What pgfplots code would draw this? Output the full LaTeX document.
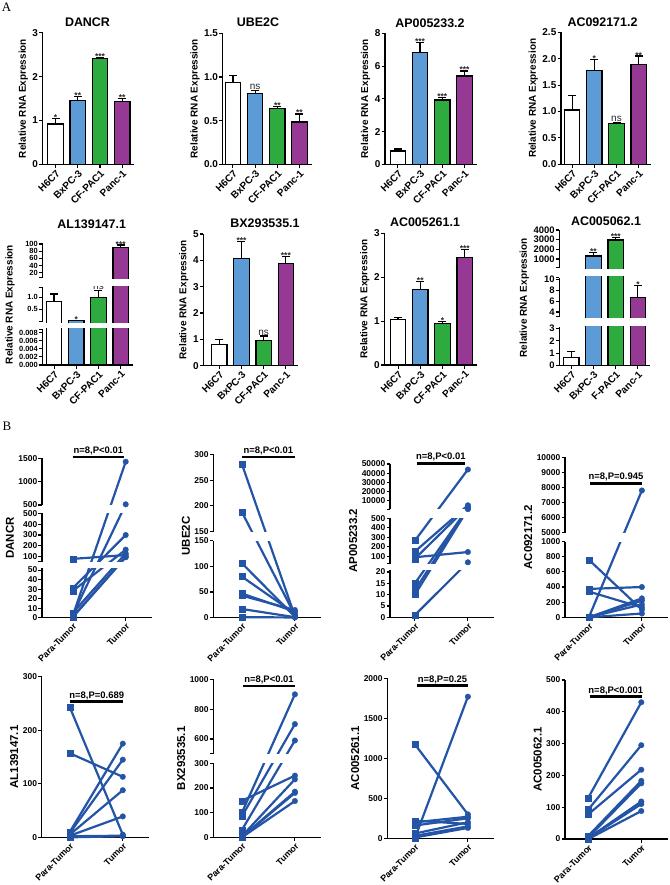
\documentclass[border=0pt]{standalone}
\usepackage{pgfplots}
\pgfplotsset{compat=1.18}
\usepackage{fontspec}
\setmainfont{Liberation Sans}
\newfontfamily\serif{Liberation Serif}

\definecolor{cBlue}{RGB}{92,155,213}
\definecolor{cGreen}{RGB}{46,171,62}
\definecolor{cPurple}{RGB}{150,57,148}
\definecolor{cLine}{RGB}{35,84,166}

\newcommand\fs[1]{\bfseries\fontsize{#1}{#1}\selectfont}
% white break band and y axis piece, in bp above the axis bottom
\newcommand\gapband[3]{\fill[white] ([shift={(0.9bp,#1bp)}]rel axis cs:0,0) rectangle ([shift={(#3bp,#2bp)}]rel axis cs:0,0);}
\newcommand\yseg[2]{\draw[line width=1.3bp] ([yshift=#1bp]rel axis cs:0,0) -- ([yshift=#2bp]rel axis cs:0,0);}
% value handed to a coord trafo may be plain or in fpu form
\makeatletter
\newcommand\getval[1]{\pgfutil@in@{Y}{#1}\ifpgfutil@in@\pgfmathfloattosci{#1}\edef\myv{\pgfmathresult}\else\edef\myv{#1}\fi}
\makeatother

\tikzset{
  sig/.style={anchor=south, inner sep=0.5bp, font=\fs{8.5}, text=black!85, yshift=-2.7bp},
  ns/.style={anchor=south, inner sep=0.5bp, font=\fontsize{10}{10}\selectfont, text=black!85},
  ptext/.style={font=\fs{9.5}, anchor=south, inner sep=1bp},
}
\pgfplotsset{
  base/.style={scale only axis, anchor=south west, axis x line*=bottom, axis y line*=left,
    clip=false, tick align=outside, major tick length=3.5bp, ymin=0,
    axis line style={line width=1.3bp},
    tick style={black, line width=1.1bp},
    scaled ticks=false,
    /pgf/number format/assume math mode=true, /pgf/number format/1000 sep={},
    y tick label style={font=\fs{10}, inner sep=1bp},
    x tick label style={rotate=45, anchor=north east, inner sep=1bp}},
  broken/.style={y axis line style={draw=none}},
  bars/.style={base, xmax=3.55, xtick={0,1,2,3},
    xticklabels={H6C7,BxPC-3,CF-PAC1,Panc-1}, x tick label style={font=\fs{10}},
    ylabel={Relative RNA Expression}, ylabel style={font=\fs{10}}},
  bar/.style={ybar, bar width=15.5bp, bar shift=0pt, draw=black, line width=1.2bp, fill=#1},
  err/.style={black, line width=1.2bp, mark=-, mark size=4bp},
  pairs/.style={base, xmax=1.5, xtick={0,1}, xticklabels={Para-Tumor,Tumor},
    x tick label style={font=\fs{9}}, y tick label style={font=\fs{8.5}},
    ylabel style={font=\fs{11.5}}},
  pr/.style={cLine, line width=2.2bp, scatter, scatter src=explicit symbolic,
    scatter/classes={p={mark=square*, mark size=3bp, cLine, line width=0.3bp},
                     t={mark=*, mark size=2.8bp, cLine, line width=0.3bp}}},
}

\begin{document}
\begin{tikzpicture}
\path[use as bounding box] (0,0) rectangle (670bp,-885bp);

\node[font=\serif\fontsize{13}{13}\selectfont] at (6.5bp,-7bp) {A};
\node[font=\serif\fontsize{13}{13}\selectfont] at (7bp,-426bp) {B};

% ---------------- A, row 1
\begin{axis}[bars, at={(42.7bp,-164.3bp)}, width=91.7bp, height=131.6bp, xmin=-0.58,
  ymax=3, ytick={0,1,2,3}]
\addplot[bar=white] coordinates {(0,0.92)};
\addplot[bar=cBlue] coordinates {(1,1.45)};
\addplot[bar=cGreen] coordinates {(2,2.42)};
\addplot[bar=cPurple] coordinates {(3,1.43)};
\addplot[err] coordinates {(0,0.92) (0,1.05)};
\addplot[err] coordinates {(1,1.45) (1,1.54)};
\addplot[err] coordinates {(2,2.42) (2,2.44)};
\addplot[err] coordinates {(3,1.43) (3,1.50)};
\node[sig] at (axis cs:0,1.05) {*};
\node[sig] at (axis cs:1,1.54) {**};
\node[sig] at (axis cs:2,2.44) {***};
\node[sig] at (axis cs:3,1.50) {**};
\end{axis}
\node[font=\fs{12.5}] at (87.5bp,-22bp) {DANCR};

\begin{axis}[bars, at={(222.7bp,-164.3bp)}, width=89bp, height=131bp, xmin=-0.46,
  ymax=1.5, ytick={0,0.5,1,1.5}, yticklabels={0.0,0.5,1.0,1.5}]
\addplot[bar=white] coordinates {(0,0.934)};
\addplot[bar=cBlue] coordinates {(1,0.813)};
\addplot[bar=cGreen] coordinates {(2,0.641)};
\addplot[bar=cPurple] coordinates {(3,0.484)};
\addplot[err] coordinates {(0,0.934) (0,1.02)};
\addplot[err] coordinates {(1,0.813) (1,0.843)};
\addplot[err] coordinates {(2,0.641) (2,0.66)};
\addplot[err] coordinates {(3,0.484) (3,0.576)};
\node[ns] at (axis cs:1,0.843) {ns};
\node[sig] at (axis cs:2,0.66) {**};
\node[sig] at (axis cs:3,0.576) {**};
\end{axis}
\node[font=\fs{12.5}] at (258bp,-22bp) {UBE2C};

\begin{axis}[bars, at={(385bp,-164.3bp)}, width=91.7bp, height=131bp, xmin=-0.58,
  ymax=8, ytick={0,2,4,6,8}]
\addplot[bar=white] coordinates {(0,0.81)};
\addplot[bar=cBlue] coordinates {(1,6.84)};
\addplot[bar=cGreen] coordinates {(2,3.93)};
\addplot[bar=cPurple] coordinates {(3,5.39)};
\addplot[err] coordinates {(0,0.81) (0,0.93)};
\addplot[err] coordinates {(1,6.84) (1,7.45)};
\addplot[err] coordinates {(2,3.93) (2,4.09)};
\addplot[err] coordinates {(3,5.39) (3,5.70)};
\node[sig] at (axis cs:1,7.45) {***};
\node[sig] at (axis cs:2,4.09) {***};
\node[sig] at (axis cs:3,5.70) {***};
\end{axis}
\node[font=\fs{12.5}] at (430bp,-23bp) {AP005233.2};

\begin{axis}[bars, at={(561bp,-164.3bp)}, width=89.9bp, height=132bp, xmin=-0.5,
  ymax=2.5, ytick={0,0.5,1,1.5,2,2.5}, yticklabels={0.0,0.5,1.0,1.5,2.0,2.5}]
\addplot[bar=white] coordinates {(0,1.03)};
\addplot[bar=cBlue] coordinates {(1,1.78)};
\addplot[bar=cGreen] coordinates {(2,0.777)};
\addplot[bar=cPurple] coordinates {(3,1.89)};
\addplot[err] coordinates {(0,1.03) (0,1.30)};
\addplot[err] coordinates {(1,1.78) (1,1.99)};
\addplot[err] coordinates {(2,0.777) (2,0.795)};
\addplot[err] coordinates {(3,1.89) (3,2.05)};
\node[sig] at (axis cs:1,1.99) {*};
\node[ns] at (axis cs:2,0.795) {ns};
\node[sig] at (axis cs:3,2.05) {**};
\end{axis}
\node[font=\fs{12.5}] at (602.5bp,-22bp) {AC092171.2};

% ---------------- A, row 2
\begin{axis}[bars, broken, at={(42.5bp,-365bp)}, width=90.4bp, height=121bp, xmin=-0.52,
  ymax=100,
  y coord trafo/.code={\getval{#1}\edef\pgfmathresult{\fpeval{\myv<=0.0089 ? \myv*4037.5 : (\myv<=1.45 ? 43.7+24*\myv : 92.3+(\myv-20)*0.3588)}}},
  y tick label style={font=\fs{7.5}},
  ytick={0,0.002,0.004,0.006,0.008,0.0089,0.0095,0.5,1,1.42,6.1,20,40,60,80,100},
  yticklabels={0.000,0.002,0.004,0.006,0.008,{},{},0.5,1.0,{},{},20,40,60,80,100}]
\addplot[bar=white] coordinates {(0,0.82)};
\addplot[bar=cBlue] coordinates {(1,0.03)};
\addplot[bar=cGreen] coordinates {(2,1.0)};
\addplot[bar=cPurple] coordinates {(3,89.7)};
\addplot[err] coordinates {(0,0.82) (0,1.14)};
\addplot[err] coordinates {(2,1.0) (2,1.3)};
\addplot[err] coordinates {(3,89.7) (3,97)};
\node[sig] at (axis cs:1,0.03) {*};
\node[ns] at (axis cs:2,1.3) {ns};
\node[sig] at (axis cs:3,97) {***};
\gapband{37.3}{42.5}{92}
\gapband{79.3}{86}{92}
\yseg{0}{35.9}\yseg{43.9}{77.8}\yseg{87.3}{121}
\end{axis}
\node[font=\fs{12.5}] at (91.7bp,-224bp) {AL139147.1};

\begin{axis}[bars, at={(203.3bp,-365.7bp)}, width=94.8bp, height=131.7bp, xmin=-0.72,
  ymax=5, ytick={0,1,2,3,4,5}]
\addplot[bar=white] coordinates {(0,0.81)};
\addplot[bar=cBlue] coordinates {(1,4.08)};
\addplot[bar=cGreen] coordinates {(2,0.95)};
\addplot[bar=cPurple] coordinates {(3,3.89)};
\addplot[err] coordinates {(0,0.81) (0,1.01)};
\addplot[err] coordinates {(1,4.08) (1,4.71)};
\addplot[err] coordinates {(2,0.95) (2,1.13)};
\addplot[err] coordinates {(3,3.89) (3,4.16)};
\node[sig] at (axis cs:1,4.71) {***};
\node[ns] at (axis cs:2,1.13) {ns};
\node[sig] at (axis cs:3,4.16) {***};
\end{axis}
\node[font=\fs{12.5}] at (265bp,-223bp) {BX293535.1};

\begin{axis}[bars, at={(384.3bp,-365bp)}, width=92.6bp, height=131.7bp, xmin=-0.62,
  ymax=3, ytick={0,1,2,3}]
\addplot[bar=white] coordinates {(0,1.04)};
\addplot[bar=cBlue] coordinates {(1,1.72)};
\addplot[bar=cGreen] coordinates {(2,0.95)};
\addplot[bar=cPurple] coordinates {(3,2.45)};
\addplot[err] coordinates {(0,1.04) (0,1.09)};
\addplot[err] coordinates {(1,1.72) (1,1.90)};
\addplot[err] coordinates {(2,0.95) (2,0.99)};
\addplot[err] coordinates {(3,2.45) (3,2.64)};
\node[sig] at (axis cs:1,1.90) {**};
\node[sig] at (axis cs:2,0.99) {*};
\node[sig] at (axis cs:3,2.64) {***};
\end{axis}
\node[font=\fs{12.5}] at (425bp,-222bp) {AC005261.1};

\begin{axis}[bars, broken, at={(559.3bp,-365.7bp)}, width=90.8bp, height=135.7bp, xmin=-0.54,
  ymax=4000, xticklabels={H6C7,BxPC-3,F-PAC1,Panc-1},
  y coord trafo/.code={\getval{#1}\edef\pgfmathresult{\fpeval{\myv<=3.1 ? 12.44*\myv : (\myv<=10.3 ? 53.7+(\myv-4)*5.45 : 106.7+(\myv-1000)*0.009667)}}},
  y tick label style={font=\fs{9.5}},
  ytick={0,1,2,3,3.11,4,6,8,10,10.25,100,1000,2000,3000,4000},
  yticklabels={0,1,2,3,{},4,6,8,10,{},{},1000,2000,3000,4000}]
\addplot[bar=white] coordinates {(0,0.675)};
\addplot[bar=cBlue] coordinates {(1,1310)};
\addplot[bar=cGreen] coordinates {(2,2965)};
\addplot[bar=cPurple] coordinates {(3,6.62)};
\addplot[err] coordinates {(0,0.675) (0,1.12)};
\addplot[err] coordinates {(1,1310) (1,1650)};
\addplot[err] coordinates {(2,2965) (2,3200)};
\addplot[err] coordinates {(3,6.62) (3,8.83)};
\node[sig] at (axis cs:1,1650) {**};
\node[sig] at (axis cs:2,3200) {***};
\node[sig] at (axis cs:3,8.83) {*};
\gapband{40}{47.5}{92}
\gapband{89.3}{96.5}{92}
\yseg{0}{38.6}\yseg{48.9}{87.8}\yseg{98}{135.7}
\end{axis}
\node[font=\fs{12.5}] at (606bp,-221bp) {AC005062.1};

% ---------------- B, row 1
\begin{axis}[pairs, broken, at={(42bp,-617.7bp)}, width=110.2bp, height=159.4bp, xmin=-0.58,
  ymax=1500, ylabel={DANCR},
  y coord trafo/.code={\getval{#1}\edef\pgfmathresult{\fpeval{\myv<=52 ? 0.953*\myv : (\myv<=500 ? 61+(\myv-100)*0.1083 : 112.7+(\myv-500)*0.0467)}}},
  ytick={0,10,20,30,40,50,52.01,100,200,300,400,500,500.001,1000,1500},
  yticklabels={0,10,20,30,40,50,{},100,200,300,400,500,500,1000,1500}]
\addplot[pr] coordinates {(0,2)[p] (1,1427)[t]};
\addplot[pr] coordinates {(0,3)[p] (1,515)[t]};
\addplot[pr] coordinates {(0,80)[p] (1,115)[t]};
\addplot[pr] coordinates {(0,31)[p] (1,300)[t]};
\addplot[pr] coordinates {(0,28)[p] (1,165)[t]};
\addplot[pr] coordinates {(0,5)[p] (1,130)[t]};
\addplot[pr] coordinates {(0,1)[p] (1,100)[t]};
\addplot[pr] coordinates {(0,0.5)[p] (1,95)[t]};
\gapband{49.6}{55.8}{112}
\gapband{104.3}{112.7}{112}
\yseg{0}{49.6}\yseg{55.8}{104.3}\yseg{112.7}{159.4}
\end{axis}
\draw[line width=2.6bp] (72.7bp,-457bp) -- (124bp,-457bp);
\node[ptext] at (98.3bp,-456bp) {n=8,P<0.01};

\begin{axis}[pairs, broken, at={(213.3bp,-617.7bp)}, width=108.1bp, height=163.4bp, xmin=-0.54,
  ymax=300, ylabel={UBE2C},
  y coord trafo/.code={\getval{#1}\edef\pgfmathresult{\fpeval{\myv<=150 ? 0.5133*\myv : 86+(\myv-150)*0.516}}},
  ytick={0,50,100,150,150.01,200,250,300},
  yticklabels={0,50,100,150,150,200,250,300}]
\addplot[pr] coordinates {(0,281)[p] (1,3)[t]};
\addplot[pr] coordinates {(0,188)[p] (1,5)[t]};
\addplot[pr] coordinates {(0,106)[p] (1,2)[t]};
\addplot[pr] coordinates {(0,80)[p] (1,8)[t]};
\addplot[pr] coordinates {(0,47)[p] (1,12)[t]};
\addplot[pr] coordinates {(0,43)[p] (1,15)[t]};
\addplot[pr] coordinates {(0,17)[p] (1,1)[t]};
\addplot[pr] coordinates {(0,1)[p] (1,0.5)[t]};
\gapband{77}{86}{110}
\yseg{0}{77}\yseg{86}{163.4}
\end{axis}
\draw[line width=2.6bp] (241.7bp,-457bp) -- (295bp,-457bp);
\node[ptext] at (268.3bp,-456bp) {n=8,P<0.01};

\begin{axis}[pairs, broken, at={(390bp,-617.3bp)}, width=104.4bp, height=153.3bp, xmin=-0.47,
  ymax=50000, ylabel={AP005233.2},
  y coord trafo/.code={\getval{#1}\edef\pgfmathresult{\fpeval{\myv<=21 ? 2.267*\myv : (\myv<=520 ? 61+(\myv-100)*0.095 : 116.6+(\myv-10000)*0.000917)}}},
  ytick={0,5,10,15,20,21.01,100,200,300,400,500,620,10000,20000,30000,40000,50000},
  yticklabels={0,5,10,15,20,{},100,200,300,400,500,{},10000,20000,30000,40000,50000}]
\addplot[pr] coordinates {(0,1)[p] (1,37)[t]};
\addplot[pr] coordinates {(0,90)[p] (1,145)[t]};
\addplot[pr] coordinates {(0,265)[p] (1,44000)[t]};
\addplot[pr] coordinates {(0,150)[p] (1,5000)[t]};
\addplot[pr] coordinates {(0,75)[p] (1,3500)[t]};
\addplot[pr] coordinates {(0,15)[p] (1,2000)[t]};
\addplot[pr] coordinates {(0,12)[p] (1,1500)[t]};
\addplot[pr] coordinates {(0,10)[p] (1,800)[t]};
\gapband{47.6}{53.5}{106}
\gapband{99}{108}{106}
\yseg{0}{47.6}\yseg{53.5}{99}\yseg{108}{153.3}
\end{axis}
\draw[line width=2.6bp] (416.7bp,-463.3bp) -- (465bp,-463.3bp);
\node[ptext] at (440.8bp,-462.3bp) {n=8,P<0.01};

\begin{axis}[pairs, broken, at={(565bp,-617.3bp)}, width=103.4bp, height=160bp, xmin=-0.45,
  ymax=10000, ylabel={AC092171.2},
  y coord trafo/.code={\getval{#1}\edef\pgfmathresult{\fpeval{\myv<=1000 ? 0.0757*\myv : 84.6+(\myv-5000)*0.01507}}},
  ytick={0,200,400,600,800,1000,5000,6000,7000,8000,9000,10000},
  yticklabels={0,200,400,600,800,1000,5000,6000,7000,8000,9000,10000}]
\addplot[pr] coordinates {(0,0)[p] (1,7800)[t]};
\addplot[pr] coordinates {(0,375)[p] (1,400)[t]};
\addplot[pr] coordinates {(0,760)[p] (1,100)[t]};
\addplot[pr] coordinates {(0,340)[p] (1,130)[t]};
\addplot[pr] coordinates {(0,0)[p] (1,250)[t]};
\addplot[pr] coordinates {(0,0)[p] (1,220)[t]};
\addplot[pr] coordinates {(0,0)[p] (1,170)[t]};
\addplot[pr] coordinates {(0,0)[p] (1,50)[t]};
\gapband{75.7}{84.6}{105}
\yseg{0}{75.7}\yseg{84.6}{160}
\end{axis}
\draw[line width=2.6bp] (590bp,-483.3bp) -- (642.3bp,-483.3bp);
\node[ptext] at (616bp,-482.3bp) {n=8,P=0.945};

% ---------------- B, row 2
\begin{axis}[pairs, at={(41.7bp,-837.3bp)}, width=107.6bp, height=160.6bp, xmin=-0.53,
  ymax=300, ylabel={AL139147.1}, ytick={0,100,200,300}]
\addplot[pr] coordinates {(0,243)[p] (1,5)[t]};
\addplot[pr] coordinates {(0,157)[p] (1,113)[t]};
\addplot[pr] coordinates {(0,10)[p] (1,175)[t]};
\addplot[pr] coordinates {(0,8)[p] (1,145)[t]};
\addplot[pr] coordinates {(0,5)[p] (1,88)[t]};
\addplot[pr] coordinates {(0,3)[p] (1,39)[t]};
\addplot[pr] coordinates {(0,2)[p] (1,3)[t]};
\addplot[pr] coordinates {(0,0)[p] (1,2)[t]};
\end{axis}
\draw[line width=2.6bp] (70bp,-701.7bp) -- (123.3bp,-701.7bp);
\node[ptext] at (96.7bp,-700.7bp) {n=8,P=0.689};

\begin{axis}[pairs, broken, at={(213.3bp,-837.3bp)}, width=108.1bp, height=157.9bp, xmin=-0.54,
  ymax=1000, ylabel={BX293535.1},
  y coord trafo/.code={\getval{#1}\edef\pgfmathresult{\fpeval{\myv<=300 ? 0.2467*\myv : 98.3+(\myv-600)*0.149}}},
  ytick={0,100,200,300,500,600,800,1000},
  yticklabels={0,100,200,300,{},600,800,1000}]
\addplot[pr] coordinates {(0,148)[p] (1,250)[t]};
\addplot[pr] coordinates {(0,100)[p] (1,900)[t]};
\addplot[pr] coordinates {(0,85)[p] (1,700)[t]};
\addplot[pr] coordinates {(0,30)[p] (1,590)[t]};
\addplot[pr] coordinates {(0,5)[p] (1,235)[t]};
\addplot[pr] coordinates {(0,2)[p] (1,185)[t]};
\addplot[pr] coordinates {(0,0)[p] (1,180)[t]};
\addplot[pr] coordinates {(0,0)[p] (1,147)[t]};
\gapband{74}{83.4}{110}
\yseg{0}{74}\yseg{83.4}{157.9}
\end{axis}
\draw[line width=2.6bp] (243.3bp,-686bp) -- (295bp,-686bp);
\node[ptext] at (269bp,-685bp) {n=8,P<0.01};

\begin{axis}[pairs, at={(387.3bp,-838.3bp)}, width=107.1bp, height=160bp, xmin=-0.52,
  ymax=2000, ylabel={AC005261.1}, ytick={0,500,1000,1500,2000}]
\addplot[pr] coordinates {(0,0)[p] (1,1770)[t]};
\addplot[pr] coordinates {(0,1175)[p] (1,300)[t]};
\addplot[pr] coordinates {(0,220)[p] (1,180)[t]};
\addplot[pr] coordinates {(0,200)[p] (1,270)[t]};
\addplot[pr] coordinates {(0,160)[p] (1,250)[t]};
\addplot[pr] coordinates {(0,60)[p] (1,200)[t]};
\addplot[pr] coordinates {(0,30)[p] (1,150)[t]};
\addplot[pr] coordinates {(0,10)[p] (1,130)[t]};
\end{axis}
\draw[line width=2.6bp] (416.7bp,-685.7bp) -- (468.3bp,-685.7bp);
\node[ptext] at (442.5bp,-684.7bp) {n=8,P=0.25};

\begin{axis}[pairs, at={(565bp,-839bp)}, width=102.8bp, height=159bp, xmin=-0.44,
  ymax=500, ylabel={AC005062.1}, ytick={0,100,200,300,400,500}]
\addplot[pr] coordinates {(0,130)[p] (1,430)[t]};
\addplot[pr] coordinates {(0,93)[p] (1,295)[t]};
\addplot[pr] coordinates {(0,78)[p] (1,218)[t]};
\addplot[pr] coordinates {(0,10)[p] (1,183)[t]};
\addplot[pr] coordinates {(0,5)[p] (1,175)[t]};
\addplot[pr] coordinates {(0,3)[p] (1,118)[t]};
\addplot[pr] coordinates {(0,2)[p] (1,110)[t]};
\addplot[pr] coordinates {(0,0)[p] (1,88)[t]};
\end{axis}
\draw[line width=2.6bp] (590bp,-696.7bp) -- (641.7bp,-696.7bp);
\node[ptext] at (615.8bp,-695.7bp) {n=8,P<0.001};
\end{tikzpicture}
\end{document}
